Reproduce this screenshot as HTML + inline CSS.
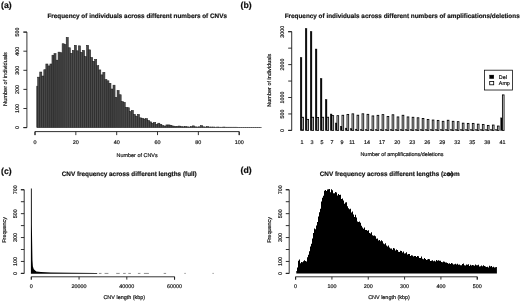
<!DOCTYPE html>
<html><head><meta charset="utf-8"><title>CNV figure</title>
<style>
html,body{margin:0;padding:0;background:#fff;}
body{width:520px;height:301px;overflow:hidden;}
svg{display:block;font-family:"Liberation Sans",sans-serif;fill:#111;text-rendering:geometricPrecision;}
text{stroke:#111;stroke-width:0.18px;}
</style></head><body>
<svg width="520" height="301" viewBox="0 0 520 301">
<defs><filter id="soft" x="0" y="0" width="520" height="301" filterUnits="userSpaceOnUse"><feGaussianBlur stdDeviation="0.32"/></filter></defs>
<rect x="0" y="0" width="520" height="301" fill="#fff"/>
<g filter="url(#soft)">
<text x="1.1" y="8.3" font-size="8.7" text-anchor="start" font-weight="bold">(a)</text>
<text x="240.6" y="8.3" font-size="8.7" text-anchor="start" font-weight="bold">(b)</text>
<text x="1.1" y="173.6" font-size="8.7" text-anchor="start" font-weight="bold">(c)</text>
<text x="240.6" y="173.3" font-size="8.7" text-anchor="start" font-weight="bold">(d)</text>
<text x="137.2" y="17.8" font-size="6.36" text-anchor="middle" font-weight="bold">Frequency of individuals across different numbers of CNVs</text>
<path d="M23.4 127.6H26.9V32.099999999999994H23.4" stroke="#1c1c1c" stroke-width="0.9" fill="none"/>
<line x1="23.4" y1="127.6" x2="26.9" y2="127.6" stroke="#1c1c1c" stroke-width="0.9"/>
<text x="19.3" y="127.6" font-size="5.38" text-anchor="middle" transform="rotate(-90 19.3 127.6)">0</text>
<line x1="23.4" y1="108.5" x2="26.9" y2="108.5" stroke="#1c1c1c" stroke-width="0.9"/>
<text x="19.3" y="108.5" font-size="5.38" text-anchor="middle" transform="rotate(-90 19.3 108.5)">100</text>
<line x1="23.4" y1="89.39999999999999" x2="26.9" y2="89.39999999999999" stroke="#1c1c1c" stroke-width="0.9"/>
<text x="19.3" y="89.39999999999999" font-size="5.38" text-anchor="middle" transform="rotate(-90 19.3 89.39999999999999)">200</text>
<line x1="23.4" y1="70.29999999999998" x2="26.9" y2="70.29999999999998" stroke="#1c1c1c" stroke-width="0.9"/>
<text x="19.3" y="70.29999999999998" font-size="5.38" text-anchor="middle" transform="rotate(-90 19.3 70.29999999999998)">300</text>
<line x1="23.4" y1="51.19999999999999" x2="26.9" y2="51.19999999999999" stroke="#1c1c1c" stroke-width="0.9"/>
<text x="19.3" y="51.19999999999999" font-size="5.38" text-anchor="middle" transform="rotate(-90 19.3 51.19999999999999)">400</text>
<line x1="23.4" y1="32.099999999999994" x2="26.9" y2="32.099999999999994" stroke="#1c1c1c" stroke-width="0.9"/>
<text x="19.3" y="32.099999999999994" font-size="5.38" text-anchor="middle" transform="rotate(-90 19.3 32.099999999999994)">500</text>
<path d="M35.0 135.1V131.6H239.2V135.1" stroke="#1c1c1c" stroke-width="0.9" fill="none"/>
<line x1="35.0" y1="131.6" x2="35.0" y2="135.1" stroke="#1c1c1c" stroke-width="0.9"/>
<text x="35.0" y="143.7" font-size="5.38" text-anchor="middle">0</text>
<line x1="75.84" y1="131.6" x2="75.84" y2="135.1" stroke="#1c1c1c" stroke-width="0.9"/>
<text x="75.84" y="143.7" font-size="5.38" text-anchor="middle">20</text>
<line x1="116.67999999999999" y1="131.6" x2="116.67999999999999" y2="135.1" stroke="#1c1c1c" stroke-width="0.9"/>
<text x="116.67999999999999" y="143.7" font-size="5.38" text-anchor="middle">40</text>
<line x1="157.51999999999998" y1="131.6" x2="157.51999999999998" y2="135.1" stroke="#1c1c1c" stroke-width="0.9"/>
<text x="157.51999999999998" y="143.7" font-size="5.38" text-anchor="middle">60</text>
<line x1="198.35999999999999" y1="131.6" x2="198.35999999999999" y2="135.1" stroke="#1c1c1c" stroke-width="0.9"/>
<text x="198.35999999999999" y="143.7" font-size="5.38" text-anchor="middle">80</text>
<line x1="239.2" y1="131.6" x2="239.2" y2="135.1" stroke="#1c1c1c" stroke-width="0.9"/>
<text x="239.2" y="143.7" font-size="5.38" text-anchor="middle">100</text>
<text x="137.15" y="156.7" font-size="5.45" text-anchor="middle">Number of CNVs</text>
<text x="6.7" y="79.0" font-size="5.6" text-anchor="middle" transform="rotate(-90 6.7 79.0)">Number of individuals</text>
<g fill="#4c4c4c" stroke="#1c1c1c" stroke-width="0.55"><rect x="36.78" y="86.15" width="0.94" height="41.45"/><rect x="37.72" y="77.18" width="2.04" height="50.42"/><rect x="39.75" y="72.02" width="2.04" height="55.58"/><rect x="41.78" y="76.03" width="2.04" height="51.57"/><rect x="43.82" y="69.73" width="2.04" height="57.87"/><rect x="45.86" y="64.00" width="2.04" height="63.60"/><rect x="47.89" y="65.91" width="2.04" height="61.69"/><rect x="49.92" y="64.00" width="2.04" height="63.60"/><rect x="51.96" y="55.21" width="2.04" height="72.39"/><rect x="54.00" y="53.68" width="2.04" height="73.92"/><rect x="56.03" y="60.18" width="2.04" height="67.42"/><rect x="58.06" y="52.15" width="2.04" height="75.45"/><rect x="60.10" y="52.73" width="2.04" height="74.87"/><rect x="62.14" y="43.75" width="2.04" height="83.85"/><rect x="64.17" y="44.51" width="2.04" height="83.09"/><rect x="66.20" y="37.45" width="2.04" height="90.15"/><rect x="68.24" y="47.76" width="2.04" height="79.84"/><rect x="70.28" y="53.30" width="2.04" height="74.30"/><rect x="72.31" y="50.44" width="2.04" height="77.16"/><rect x="74.34" y="45.28" width="2.04" height="82.32"/><rect x="76.38" y="50.82" width="2.04" height="76.78"/><rect x="78.41" y="45.85" width="2.04" height="81.75"/><rect x="80.45" y="52.35" width="2.04" height="75.25"/><rect x="82.49" y="50.44" width="2.04" height="77.16"/><rect x="84.52" y="56.55" width="2.04" height="71.05"/><rect x="86.56" y="45.28" width="2.04" height="82.32"/><rect x="88.59" y="49.86" width="2.04" height="77.74"/><rect x="90.62" y="57.50" width="2.04" height="70.10"/><rect x="92.66" y="61.32" width="2.04" height="66.28"/><rect x="94.69" y="59.41" width="2.04" height="68.19"/><rect x="96.73" y="65.72" width="2.04" height="61.88"/><rect x="98.77" y="69.92" width="2.04" height="57.68"/><rect x="100.80" y="74.88" width="2.04" height="52.72"/><rect x="102.84" y="72.40" width="2.04" height="55.20"/><rect x="104.87" y="79.66" width="2.04" height="47.94"/><rect x="106.91" y="80.80" width="2.04" height="46.80"/><rect x="108.94" y="83.29" width="2.04" height="44.31"/><rect x="110.97" y="89.02" width="2.04" height="38.58"/><rect x="113.01" y="85.20" width="2.04" height="42.40"/><rect x="115.05" y="97.42" width="2.04" height="30.18"/><rect x="117.08" y="90.55" width="2.04" height="37.05"/><rect x="119.12" y="94.75" width="2.04" height="32.85"/><rect x="121.15" y="101.62" width="2.04" height="25.98"/><rect x="123.19" y="102.39" width="2.04" height="25.21"/><rect x="125.22" y="107.35" width="2.04" height="20.25"/><rect x="127.25" y="107.74" width="2.04" height="19.86"/><rect x="129.29" y="111.56" width="2.04" height="16.04"/><rect x="131.33" y="110.41" width="2.04" height="17.19"/><rect x="133.36" y="114.42" width="2.04" height="13.18"/><rect x="135.40" y="116.14" width="2.04" height="11.46"/><rect x="137.43" y="114.42" width="2.04" height="13.18"/><rect x="139.47" y="117.86" width="2.04" height="9.74"/><rect x="141.50" y="118.24" width="2.04" height="9.36"/><rect x="143.53" y="119.00" width="2.04" height="8.60"/><rect x="145.57" y="118.62" width="2.04" height="8.98"/><rect x="147.61" y="120.53" width="2.04" height="7.07"/><rect x="149.64" y="121.87" width="2.04" height="5.73"/><rect x="151.68" y="123.21" width="2.04" height="4.39"/><rect x="153.71" y="122.44" width="2.04" height="5.16"/><rect x="155.75" y="124.35" width="2.04" height="3.25"/><rect x="157.78" y="123.21" width="2.04" height="4.39"/><rect x="159.81" y="124.35" width="2.04" height="3.25"/><rect x="161.85" y="125.69" width="2.04" height="1.91"/><rect x="163.89" y="126.07" width="2.04" height="1.53"/><rect x="165.92" y="124.93" width="2.04" height="2.67"/><rect x="167.96" y="124.93" width="2.04" height="2.67"/><rect x="169.99" y="125.31" width="2.04" height="2.29"/><rect x="172.03" y="126.07" width="2.04" height="1.53"/><rect x="174.06" y="126.45" width="2.04" height="1.15"/><rect x="176.10" y="126.45" width="2.04" height="1.15"/><rect x="178.13" y="126.07" width="2.04" height="1.53"/><rect x="180.17" y="126.64" width="2.04" height="0.96"/><rect x="182.20" y="126.84" width="2.04" height="0.76"/><rect x="184.24" y="126.45" width="2.04" height="1.15"/><rect x="186.27" y="126.84" width="2.04" height="0.76"/><rect x="188.31" y="127.03" width="2.04" height="0.57"/><rect x="190.34" y="126.64" width="2.04" height="0.96"/><rect x="192.38" y="125.88" width="2.04" height="1.72"/><rect x="194.41" y="126.84" width="2.04" height="0.76"/><rect x="196.45" y="127.03" width="2.04" height="0.57"/><rect x="198.48" y="126.84" width="2.04" height="0.76"/><rect x="200.52" y="125.69" width="2.04" height="1.91"/><rect x="202.55" y="126.84" width="2.04" height="0.76"/><rect x="204.59" y="127.03" width="2.04" height="0.57"/><rect x="206.62" y="126.64" width="2.04" height="0.96"/><rect x="208.66" y="127.03" width="2.04" height="0.57"/><rect x="210.69" y="127.03" width="2.04" height="0.57"/><rect x="212.73" y="127.03" width="2.04" height="0.57"/><rect x="214.76" y="127.22" width="2.04" height="0.38"/><rect x="216.80" y="127.03" width="2.04" height="0.57"/><rect x="218.83" y="127.22" width="2.04" height="0.38"/><rect x="220.87" y="127.22" width="2.04" height="0.38"/><rect x="222.90" y="127.03" width="2.04" height="0.57"/><rect x="224.94" y="127.22" width="2.04" height="0.38"/><rect x="226.97" y="127.22" width="2.04" height="0.38"/><rect x="229.01" y="127.22" width="2.04" height="0.38"/><rect x="231.04" y="127.22" width="2.04" height="0.38"/><rect x="233.08" y="127.22" width="2.04" height="0.38"/><rect x="235.11" y="127.22" width="2.04" height="0.38"/><rect x="237.15" y="127.31" width="2.04" height="0.29"/><rect x="239.18" y="127.31" width="2.04" height="0.29"/><rect x="241.22" y="127.31" width="2.04" height="0.29"/><rect x="243.25" y="127.31" width="2.04" height="0.29"/><rect x="245.29" y="127.31" width="2.04" height="0.29"/><rect x="247.32" y="127.31" width="2.04" height="0.29"/><rect x="249.36" y="127.31" width="2.04" height="0.29"/><rect x="251.39" y="127.31" width="2.04" height="0.29"/><rect x="253.43" y="127.31" width="2.04" height="0.29"/><rect x="255.46" y="127.31" width="2.04" height="0.29"/><rect x="257.50" y="127.31" width="2.04" height="0.29"/><rect x="259.53" y="127.31" width="2.04" height="0.29"/></g>
<text x="402.2" y="17.8" font-size="6.36" text-anchor="middle" font-weight="bold">Frequency of individuals across different numbers of amplifications/deletions</text>
<path d="M288.2 130.4H291.7V31.700000000000003H288.2" stroke="#1c1c1c" stroke-width="0.9" fill="none"/>
<line x1="288.2" y1="130.4" x2="291.7" y2="130.4" stroke="#1c1c1c" stroke-width="0.9"/>
<text x="284.1" y="130.4" font-size="5.38" text-anchor="middle" transform="rotate(-90 284.1 130.4)">0</text>
<line x1="288.2" y1="113.95" x2="291.7" y2="113.95" stroke="#1c1c1c" stroke-width="0.9"/>
<text x="284.1" y="113.95" font-size="5.38" text-anchor="middle" transform="rotate(-90 284.1 113.95)">500</text>
<line x1="288.2" y1="97.5" x2="291.7" y2="97.5" stroke="#1c1c1c" stroke-width="0.9"/>
<text x="284.1" y="97.5" font-size="5.38" text-anchor="middle" transform="rotate(-90 284.1 97.5)">1000</text>
<line x1="288.2" y1="81.05000000000001" x2="291.7" y2="81.05000000000001" stroke="#1c1c1c" stroke-width="0.9"/>
<line x1="288.2" y1="64.60000000000001" x2="291.7" y2="64.60000000000001" stroke="#1c1c1c" stroke-width="0.9"/>
<text x="284.1" y="64.60000000000001" font-size="5.38" text-anchor="middle" transform="rotate(-90 284.1 64.60000000000001)">2000</text>
<line x1="288.2" y1="48.150000000000006" x2="291.7" y2="48.150000000000006" stroke="#1c1c1c" stroke-width="0.9"/>
<line x1="288.2" y1="31.700000000000003" x2="291.7" y2="31.700000000000003" stroke="#1c1c1c" stroke-width="0.9"/>
<text x="284.1" y="31.700000000000003" font-size="5.38" text-anchor="middle" transform="rotate(-90 284.1 31.700000000000003)">3000</text>
<text x="270.6" y="80.2" font-size="5.5" text-anchor="middle" transform="rotate(-90 270.6 80.2)">Number of individuals</text>
<text x="402" y="155.8" font-size="5.45" text-anchor="middle">Number of amplifications/deletions</text>
<rect x="300.23" y="57.49" width="1.67" height="72.91" fill="#000" stroke="#000" stroke-width="0.4"/><rect x="301.90" y="117.24" width="1.67" height="13.16" fill="#e6e6e6" stroke="#000" stroke-width="0.85"/><rect x="305.24" y="28.51" width="1.67" height="101.89" fill="#000" stroke="#000" stroke-width="0.4"/><rect x="306.91" y="119.38" width="1.67" height="11.02" fill="#e6e6e6" stroke="#000" stroke-width="0.85"/><rect x="310.25" y="31.50" width="1.67" height="98.90" fill="#000" stroke="#000" stroke-width="0.4"/><rect x="311.92" y="117.24" width="1.67" height="13.16" fill="#e6e6e6" stroke="#000" stroke-width="0.85"/><rect x="315.27" y="49.01" width="1.67" height="81.39" fill="#000" stroke="#000" stroke-width="0.4"/><rect x="316.94" y="117.57" width="1.67" height="12.83" fill="#e6e6e6" stroke="#000" stroke-width="0.85"/><rect x="320.28" y="78.48" width="1.67" height="51.92" fill="#000" stroke="#000" stroke-width="0.4"/><rect x="321.95" y="117.24" width="1.67" height="13.16" fill="#e6e6e6" stroke="#000" stroke-width="0.85"/><rect x="325.29" y="99.51" width="1.67" height="30.89" fill="#000" stroke="#000" stroke-width="0.4"/><rect x="326.96" y="117.24" width="1.67" height="13.16" fill="#e6e6e6" stroke="#000" stroke-width="0.85"/><rect x="330.30" y="114.02" width="1.67" height="16.38" fill="#000" stroke="#000" stroke-width="0.4"/><rect x="331.97" y="115.59" width="1.67" height="14.80" fill="#e6e6e6" stroke="#000" stroke-width="0.85"/><rect x="335.32" y="123.00" width="1.67" height="7.40" fill="#000" stroke="#000" stroke-width="0.4"/><rect x="336.99" y="115.66" width="1.67" height="14.74" fill="#e6e6e6" stroke="#000" stroke-width="0.85"/><rect x="340.33" y="126.19" width="1.67" height="4.21" fill="#000" stroke="#000" stroke-width="0.4"/><rect x="342.00" y="115.27" width="1.67" height="15.13" fill="#e6e6e6" stroke="#000" stroke-width="0.85"/><rect x="345.34" y="128.10" width="1.67" height="2.30" fill="#000" stroke="#000" stroke-width="0.4"/><rect x="347.01" y="114.41" width="1.67" height="15.99" fill="#e6e6e6" stroke="#000" stroke-width="0.85"/><rect x="350.35" y="128.75" width="1.67" height="1.65" fill="#000" stroke="#000" stroke-width="0.4"/><rect x="352.02" y="113.85" width="1.67" height="16.55" fill="#e6e6e6" stroke="#000" stroke-width="0.85"/><rect x="355.37" y="129.15" width="1.67" height="1.25" fill="#000" stroke="#000" stroke-width="0.4"/><rect x="357.04" y="115.20" width="1.67" height="15.20" fill="#e6e6e6" stroke="#000" stroke-width="0.85"/><rect x="360.38" y="129.55" width="1.67" height="0.85" fill="#000" stroke="#000" stroke-width="0.4"/><rect x="362.05" y="113.79" width="1.67" height="16.61" fill="#e6e6e6" stroke="#000" stroke-width="0.85"/><rect x="365.39" y="129.55" width="1.67" height="0.85" fill="#000" stroke="#000" stroke-width="0.4"/><rect x="367.06" y="114.34" width="1.67" height="16.06" fill="#e6e6e6" stroke="#000" stroke-width="0.85"/><rect x="370.40" y="129.55" width="1.67" height="0.85" fill="#000" stroke="#000" stroke-width="0.4"/><rect x="372.07" y="115.92" width="1.67" height="14.48" fill="#e6e6e6" stroke="#000" stroke-width="0.85"/><rect x="375.42" y="129.55" width="1.67" height="0.85" fill="#000" stroke="#000" stroke-width="0.4"/><rect x="377.09" y="115.33" width="1.67" height="15.07" fill="#e6e6e6" stroke="#000" stroke-width="0.85"/><rect x="380.43" y="129.55" width="1.67" height="0.85" fill="#000" stroke="#000" stroke-width="0.4"/><rect x="382.10" y="114.61" width="1.67" height="15.79" fill="#e6e6e6" stroke="#000" stroke-width="0.85"/><rect x="385.44" y="129.55" width="1.67" height="0.85" fill="#000" stroke="#000" stroke-width="0.4"/><rect x="387.11" y="116.42" width="1.67" height="13.98" fill="#e6e6e6" stroke="#000" stroke-width="0.85"/><rect x="390.45" y="129.55" width="1.67" height="0.85" fill="#000" stroke="#000" stroke-width="0.4"/><rect x="392.12" y="114.77" width="1.67" height="15.63" fill="#e6e6e6" stroke="#000" stroke-width="0.85"/><rect x="395.47" y="129.55" width="1.67" height="0.85" fill="#000" stroke="#000" stroke-width="0.4"/><rect x="397.14" y="116.91" width="1.67" height="13.49" fill="#e6e6e6" stroke="#000" stroke-width="0.85"/><rect x="400.48" y="129.55" width="1.67" height="0.85" fill="#000" stroke="#000" stroke-width="0.4"/><rect x="402.15" y="115.27" width="1.67" height="15.13" fill="#e6e6e6" stroke="#000" stroke-width="0.85"/><rect x="405.49" y="129.55" width="1.67" height="0.85" fill="#000" stroke="#000" stroke-width="0.4"/><rect x="407.16" y="116.91" width="1.67" height="13.49" fill="#e6e6e6" stroke="#000" stroke-width="0.85"/><rect x="410.50" y="129.55" width="1.67" height="0.85" fill="#000" stroke="#000" stroke-width="0.4"/><rect x="412.17" y="117.27" width="1.67" height="13.13" fill="#e6e6e6" stroke="#000" stroke-width="0.85"/><rect x="415.52" y="129.55" width="1.67" height="0.85" fill="#000" stroke="#000" stroke-width="0.4"/><rect x="417.19" y="117.77" width="1.67" height="12.63" fill="#e6e6e6" stroke="#000" stroke-width="0.85"/><rect x="420.53" y="129.55" width="1.67" height="0.85" fill="#000" stroke="#000" stroke-width="0.4"/><rect x="422.20" y="118.52" width="1.67" height="11.88" fill="#e6e6e6" stroke="#000" stroke-width="0.85"/><rect x="425.54" y="129.55" width="1.67" height="0.85" fill="#000" stroke="#000" stroke-width="0.4"/><rect x="427.21" y="119.41" width="1.67" height="10.99" fill="#e6e6e6" stroke="#000" stroke-width="0.85"/><rect x="430.55" y="129.55" width="1.67" height="0.85" fill="#000" stroke="#000" stroke-width="0.4"/><rect x="432.23" y="120.04" width="1.67" height="10.36" fill="#e6e6e6" stroke="#000" stroke-width="0.85"/><rect x="435.57" y="129.55" width="1.67" height="0.85" fill="#000" stroke="#000" stroke-width="0.4"/><rect x="437.24" y="120.40" width="1.67" height="10.00" fill="#e6e6e6" stroke="#000" stroke-width="0.85"/><rect x="440.58" y="129.55" width="1.67" height="0.85" fill="#000" stroke="#000" stroke-width="0.4"/><rect x="442.25" y="121.29" width="1.67" height="9.11" fill="#e6e6e6" stroke="#000" stroke-width="0.85"/><rect x="445.59" y="129.55" width="1.67" height="0.85" fill="#000" stroke="#000" stroke-width="0.4"/><rect x="447.26" y="120.27" width="1.67" height="10.13" fill="#e6e6e6" stroke="#000" stroke-width="0.85"/><rect x="450.60" y="129.55" width="1.67" height="0.85" fill="#000" stroke="#000" stroke-width="0.4"/><rect x="452.27" y="121.29" width="1.67" height="9.11" fill="#e6e6e6" stroke="#000" stroke-width="0.85"/><rect x="455.62" y="129.55" width="1.67" height="0.85" fill="#000" stroke="#000" stroke-width="0.4"/><rect x="457.29" y="121.65" width="1.67" height="8.75" fill="#e6e6e6" stroke="#000" stroke-width="0.85"/><rect x="460.63" y="129.55" width="1.67" height="0.85" fill="#000" stroke="#000" stroke-width="0.4"/><rect x="462.30" y="123.16" width="1.67" height="7.24" fill="#e6e6e6" stroke="#000" stroke-width="0.85"/><rect x="465.64" y="129.55" width="1.67" height="0.85" fill="#000" stroke="#000" stroke-width="0.4"/><rect x="467.31" y="123.39" width="1.67" height="7.01" fill="#e6e6e6" stroke="#000" stroke-width="0.85"/><rect x="470.65" y="129.55" width="1.67" height="0.85" fill="#000" stroke="#000" stroke-width="0.4"/><rect x="472.32" y="123.39" width="1.67" height="7.01" fill="#e6e6e6" stroke="#000" stroke-width="0.85"/><rect x="475.67" y="129.55" width="1.67" height="0.85" fill="#000" stroke="#000" stroke-width="0.4"/><rect x="477.34" y="124.15" width="1.67" height="6.25" fill="#e6e6e6" stroke="#000" stroke-width="0.85"/><rect x="480.68" y="129.55" width="1.67" height="0.85" fill="#000" stroke="#000" stroke-width="0.4"/><rect x="482.35" y="124.41" width="1.67" height="5.99" fill="#e6e6e6" stroke="#000" stroke-width="0.85"/><rect x="485.69" y="129.55" width="1.67" height="0.85" fill="#000" stroke="#000" stroke-width="0.4"/><rect x="487.36" y="125.40" width="1.67" height="5.00" fill="#e6e6e6" stroke="#000" stroke-width="0.85"/><rect x="490.70" y="129.55" width="1.67" height="0.85" fill="#000" stroke="#000" stroke-width="0.4"/><rect x="492.38" y="125.04" width="1.67" height="5.36" fill="#e6e6e6" stroke="#000" stroke-width="0.85"/><rect x="495.72" y="129.55" width="1.67" height="0.85" fill="#000" stroke="#000" stroke-width="0.4"/><rect x="497.39" y="126.02" width="1.67" height="4.38" fill="#e6e6e6" stroke="#000" stroke-width="0.85"/><rect x="500.73" y="117.90" width="1.67" height="12.50" fill="#000" stroke="#000" stroke-width="0.4"/><rect x="502.40" y="94.90" width="1.67" height="35.50" fill="#e6e6e6" stroke="#000" stroke-width="0.85"/>
<text x="301.9" y="143.8" font-size="5.38" text-anchor="middle">1</text>
<text x="311.92" y="143.8" font-size="5.38" text-anchor="middle">3</text>
<text x="321.95" y="143.8" font-size="5.38" text-anchor="middle">5</text>
<text x="331.97" y="143.8" font-size="5.38" text-anchor="middle">7</text>
<text x="342.0" y="143.8" font-size="5.38" text-anchor="middle">9</text>
<text x="352.02" y="143.8" font-size="5.38" text-anchor="middle">11</text>
<text x="367.06" y="143.8" font-size="5.38" text-anchor="middle">14</text>
<text x="382.1" y="143.8" font-size="5.38" text-anchor="middle">17</text>
<text x="397.14" y="143.8" font-size="5.38" text-anchor="middle">20</text>
<text x="412.17" y="143.8" font-size="5.38" text-anchor="middle">23</text>
<text x="427.21" y="143.8" font-size="5.38" text-anchor="middle">26</text>
<text x="442.25" y="143.8" font-size="5.38" text-anchor="middle">29</text>
<text x="457.29" y="143.8" font-size="5.38" text-anchor="middle">32</text>
<text x="472.32" y="143.8" font-size="5.38" text-anchor="middle">35</text>
<text x="487.36" y="143.8" font-size="5.38" text-anchor="middle">38</text>
<text x="502.4" y="143.8" font-size="5.38" text-anchor="middle">41</text>
<rect x="484.5" y="70.2" width="27.9" height="19.8" fill="#fff" stroke="#111" stroke-width="0.8"/>
<rect x="489.6" y="75.1" width="4.2" height="3.5" fill="#000" stroke="#000" stroke-width="0.4"/>
<rect x="489.7" y="81.5" width="4.0" height="3.3" fill="#fff" stroke="#000" stroke-width="0.8"/>
<text x="498.8" y="78.7" font-size="5.38" text-anchor="start">Del</text>
<text x="498.8" y="85.1" font-size="5.38" text-anchor="start">Amp</text>
<text x="129.2" y="175.7" font-size="6.36" text-anchor="middle" font-weight="bold">CNV frequency across different lengths (full)</text>
<path d="M20.9 273.4H24.2V189.75H20.9" stroke="#1c1c1c" stroke-width="0.9" fill="none"/>
<line x1="20.9" y1="273.4" x2="24.2" y2="273.4" stroke="#1c1c1c" stroke-width="0.9"/>
<text x="17.3" y="273.4" font-size="5.38" text-anchor="middle" transform="rotate(-90 17.3 273.4)">0</text>
<line x1="20.9" y1="261.45" x2="24.2" y2="261.45" stroke="#1c1c1c" stroke-width="0.9"/>
<text x="17.3" y="261.45" font-size="5.38" text-anchor="middle" transform="rotate(-90 17.3 261.45)">100</text>
<line x1="20.9" y1="249.49999999999997" x2="24.2" y2="249.49999999999997" stroke="#1c1c1c" stroke-width="0.9"/>
<line x1="20.9" y1="237.54999999999998" x2="24.2" y2="237.54999999999998" stroke="#1c1c1c" stroke-width="0.9"/>
<text x="17.3" y="237.54999999999998" font-size="5.38" text-anchor="middle" transform="rotate(-90 17.3 237.54999999999998)">300</text>
<line x1="20.9" y1="225.59999999999997" x2="24.2" y2="225.59999999999997" stroke="#1c1c1c" stroke-width="0.9"/>
<line x1="20.9" y1="213.64999999999998" x2="24.2" y2="213.64999999999998" stroke="#1c1c1c" stroke-width="0.9"/>
<text x="17.3" y="213.64999999999998" font-size="5.38" text-anchor="middle" transform="rotate(-90 17.3 213.64999999999998)">500</text>
<line x1="20.9" y1="201.7" x2="24.2" y2="201.7" stroke="#1c1c1c" stroke-width="0.9"/>
<line x1="20.9" y1="189.75" x2="24.2" y2="189.75" stroke="#1c1c1c" stroke-width="0.9"/>
<text x="17.3" y="189.75" font-size="5.38" text-anchor="middle" transform="rotate(-90 17.3 189.75)">700</text>
<path d="M31.3 279.6V276.8H174.55V279.6" stroke="#1c1c1c" stroke-width="0.9" fill="none"/>
<line x1="31.3" y1="276.8" x2="31.3" y2="279.6" stroke="#1c1c1c" stroke-width="0.9"/>
<text x="31.3" y="287.6" font-size="5.38" text-anchor="middle">0</text>
<line x1="79.05" y1="276.8" x2="79.05" y2="279.6" stroke="#1c1c1c" stroke-width="0.9"/>
<text x="79.05" y="287.6" font-size="5.38" text-anchor="middle">20000</text>
<line x1="126.8" y1="276.8" x2="126.8" y2="279.6" stroke="#1c1c1c" stroke-width="0.9"/>
<text x="126.8" y="287.6" font-size="5.38" text-anchor="middle">40000</text>
<line x1="174.55" y1="276.8" x2="174.55" y2="279.6" stroke="#1c1c1c" stroke-width="0.9"/>
<text x="174.55" y="287.6" font-size="5.38" text-anchor="middle">60000</text>
<text x="5.7" y="229.9" font-size="5.45" text-anchor="middle" transform="rotate(-90 5.7 229.9)">Frequency</text>
<text x="124.3" y="298.7" font-size="5.45" text-anchor="middle">CNV length (kbp)</text>
<polygon points="30.9,273.7 30.9,188.5 31.75,188.5 31.85,225 32.1,240 32.45,260 32.9,266.6 33.8,269.3 36.3,271.4 41,272.1 51,272.5 72,272.75 97.2,272.9 97.2,273.7" fill="#000"/>
<rect x="98.9" y="272.95" width="2.60" height="0.6" fill="#444"/>
<rect x="104.6" y="272.95" width="3.80" height="0.6" fill="#444"/>
<rect x="116.2" y="272.95" width="3.50" height="0.6" fill="#444"/>
<rect x="123.1" y="272.95" width="2.60" height="0.6" fill="#444"/>
<rect x="128.3" y="272.95" width="2.60" height="0.6" fill="#444"/>
<rect x="137.9" y="272.95" width="2.50" height="0.6" fill="#444"/>
<rect x="143.9" y="272.95" width="5.00" height="0.6" fill="#444"/>
<rect x="163.7" y="272.95" width="2.40" height="0.6" fill="#444"/>
<rect x="184.4" y="272.95" width="1.30" height="0.6" fill="#444"/>
<rect x="212.5" y="272.95" width="1.20" height="0.6" fill="#444"/>
<text x="389.7" y="175.7" font-size="6.36" text-anchor="middle" font-weight="bold">CNV frequency across different lengths (zoom</text>
<path d="M285.8 273.4H289.2V189.75H285.8" stroke="#1c1c1c" stroke-width="0.9" fill="none"/>
<line x1="285.8" y1="273.4" x2="289.2" y2="273.4" stroke="#1c1c1c" stroke-width="0.9"/>
<text x="282.3" y="273.4" font-size="5.38" text-anchor="middle" transform="rotate(-90 282.3 273.4)">0</text>
<line x1="285.8" y1="261.45" x2="289.2" y2="261.45" stroke="#1c1c1c" stroke-width="0.9"/>
<text x="282.3" y="261.45" font-size="5.38" text-anchor="middle" transform="rotate(-90 282.3 261.45)">100</text>
<line x1="285.8" y1="249.49999999999997" x2="289.2" y2="249.49999999999997" stroke="#1c1c1c" stroke-width="0.9"/>
<line x1="285.8" y1="237.54999999999998" x2="289.2" y2="237.54999999999998" stroke="#1c1c1c" stroke-width="0.9"/>
<text x="282.3" y="237.54999999999998" font-size="5.38" text-anchor="middle" transform="rotate(-90 282.3 237.54999999999998)">300</text>
<line x1="285.8" y1="225.59999999999997" x2="289.2" y2="225.59999999999997" stroke="#1c1c1c" stroke-width="0.9"/>
<line x1="285.8" y1="213.64999999999998" x2="289.2" y2="213.64999999999998" stroke="#1c1c1c" stroke-width="0.9"/>
<text x="282.3" y="213.64999999999998" font-size="5.38" text-anchor="middle" transform="rotate(-90 282.3 213.64999999999998)">500</text>
<line x1="285.8" y1="201.7" x2="289.2" y2="201.7" stroke="#1c1c1c" stroke-width="0.9"/>
<line x1="285.8" y1="189.75" x2="289.2" y2="189.75" stroke="#1c1c1c" stroke-width="0.9"/>
<text x="282.3" y="189.75" font-size="5.38" text-anchor="middle" transform="rotate(-90 282.3 189.75)">700</text>
<path d="M295.6 279.6V276.8H477.25V279.6" stroke="#1c1c1c" stroke-width="0.9" fill="none"/>
<line x1="295.6" y1="276.8" x2="295.6" y2="279.6" stroke="#1c1c1c" stroke-width="0.9"/>
<text x="295.6" y="287.6" font-size="5.38" text-anchor="middle">0</text>
<line x1="331.93" y1="276.8" x2="331.93" y2="279.6" stroke="#1c1c1c" stroke-width="0.9"/>
<text x="331.93" y="287.6" font-size="5.38" text-anchor="middle">100</text>
<line x1="368.26" y1="276.8" x2="368.26" y2="279.6" stroke="#1c1c1c" stroke-width="0.9"/>
<text x="368.26" y="287.6" font-size="5.38" text-anchor="middle">200</text>
<line x1="404.59000000000003" y1="276.8" x2="404.59000000000003" y2="279.6" stroke="#1c1c1c" stroke-width="0.9"/>
<text x="404.59000000000003" y="287.6" font-size="5.38" text-anchor="middle">300</text>
<line x1="440.92" y1="276.8" x2="440.92" y2="279.6" stroke="#1c1c1c" stroke-width="0.9"/>
<text x="440.92" y="287.6" font-size="5.38" text-anchor="middle">400</text>
<line x1="477.25" y1="276.8" x2="477.25" y2="279.6" stroke="#1c1c1c" stroke-width="0.9"/>
<text x="477.25" y="287.6" font-size="5.38" text-anchor="middle">500</text>
<text x="270.6" y="229.9" font-size="5.45" text-anchor="middle" transform="rotate(-90 270.6 229.9)">Frequency</text>
<text x="389" y="298.7" font-size="5.45" text-anchor="middle">CNV length (kbp)</text>
<path d="M296.3 273.4V271.09h0.70V267.41h1.00V260.81h1.00V259.44h1.00V263.26h1.00V261.96h1.00V262.36h1.00V261.15h1.00V260.32h1.00V261.08h1.00V261.47h1.00V257.34h1.00V254.76h1.00V251.14h1.00V246.50h1.00V243.70h1.00V238.45h1.00V232.89h1.00V228.55h1.00V229.28h1.00V225.62h1.00V222.09h1.00V216.45h1.00V212.17h1.00V208.74h1.00V201.56h1.00V197.68h1.00V195.66h1.00V190.73h1.00V190.01h1.00V190.92h1.00V189.50h1.00V189.36h1.00V188.91h1.00V192.29h1.00V189.18h1.00V190.18h1.00V193.34h1.00V193.26h1.00V192.12h1.00V192.41h1.00V195.61h1.00V194.08h1.00V194.88h1.00V194.83h1.00V198.95h1.00V198.58h1.00V200.45h1.00V203.76h1.00V202.41h1.00V202.29h1.00V206.37h1.00V208.17h1.00V209.16h1.00V208.78h1.00V212.49h1.00V211.40h1.00V214.60h1.00V217.04h1.00V214.79h1.00V217.43h1.00V221.61h1.00V221.98h1.00V221.60h1.00V222.87h1.00V225.67h1.00V227.58h1.00V228.66h1.00V227.43h1.00V229.95h1.00V229.90h1.00V230.84h1.00V230.27h1.00V232.96h1.00V233.43h1.00V232.20h1.00V235.14h1.00V235.84h1.00V235.49h1.00V236.23h1.00V238.68h1.00V238.61h1.00V240.43h1.00V240.10h1.00V241.17h1.00V240.34h1.00V241.34h1.00V243.40h1.00V244.37h1.00V243.21h1.00V245.53h1.00V246.49h1.00V245.48h1.00V247.54h1.00V248.54h1.00V248.51h1.00V249.64h1.00V248.12h1.00V248.55h1.00V250.58h1.00V249.56h1.00V250.02h1.00V251.72h1.00V252.08h1.00V250.79h1.00V251.00h1.00V252.51h1.00V251.59h1.00V253.48h1.00V253.37h1.00V252.19h1.00V254.49h1.00V254.04h1.00V254.01h1.00V255.92h1.00V255.13h1.00V255.54h1.00V256.44h1.00V255.89h1.00V255.92h1.00V257.04h1.00V256.07h1.00V256.31h1.00V258.02h1.00V257.97h1.00V256.54h1.00V258.69h1.00V259.15h1.00V258.03h1.00V258.88h1.00V259.97h1.00V259.57h1.00V259.11h1.00V259.26h1.00V260.89h1.00V260.83h1.00V260.13h1.00V261.29h1.00V260.76h1.00V261.60h1.00V260.12h1.00V260.84h1.00V260.20h1.00V260.71h1.00V260.70h1.00V262.06h1.00V262.13h1.00V261.54h1.00V261.74h1.00V262.42h1.00V262.48h1.00V263.02h1.00V263.64h1.00V263.31h1.00V264.08h1.00V262.95h1.00V263.41h1.00V264.45h1.00V264.29h1.00V263.66h1.00V264.58h1.00V263.69h1.00V264.79h1.00V264.53h1.00V265.13h1.00V265.17h1.00V264.08h1.00V263.62h1.00V265.22h1.00V265.50h1.00V264.54h1.00V264.84h1.00V264.14h1.00V265.97h1.00V264.86h1.00V265.42h1.00V265.07h1.00V265.25h1.00V265.72h1.00V264.58h1.00V265.23h1.00V265.14h1.00V264.78h1.00V266.58h1.00V266.14h1.00V265.61h1.00V266.28h1.00V265.24h1.00V266.09h1.00V266.46h1.00V266.94h1.00V266.87h1.00V267.46h1.00V265.86h1.00V266.54h1.00V266.08h1.00V267.15h1.00V266.81h1.00V267.42h1.00V267.15h1.00V267.09h0.90V273.4Z" fill="#000"/>
<text x="450.9" y="175.7" font-size="6.36" text-anchor="start" font-weight="bold">)</text>
<text x="446.9" y="175.7" font-size="6.36" text-anchor="start" font-weight="bold">o</text>
</g>
</svg>
</body></html>
